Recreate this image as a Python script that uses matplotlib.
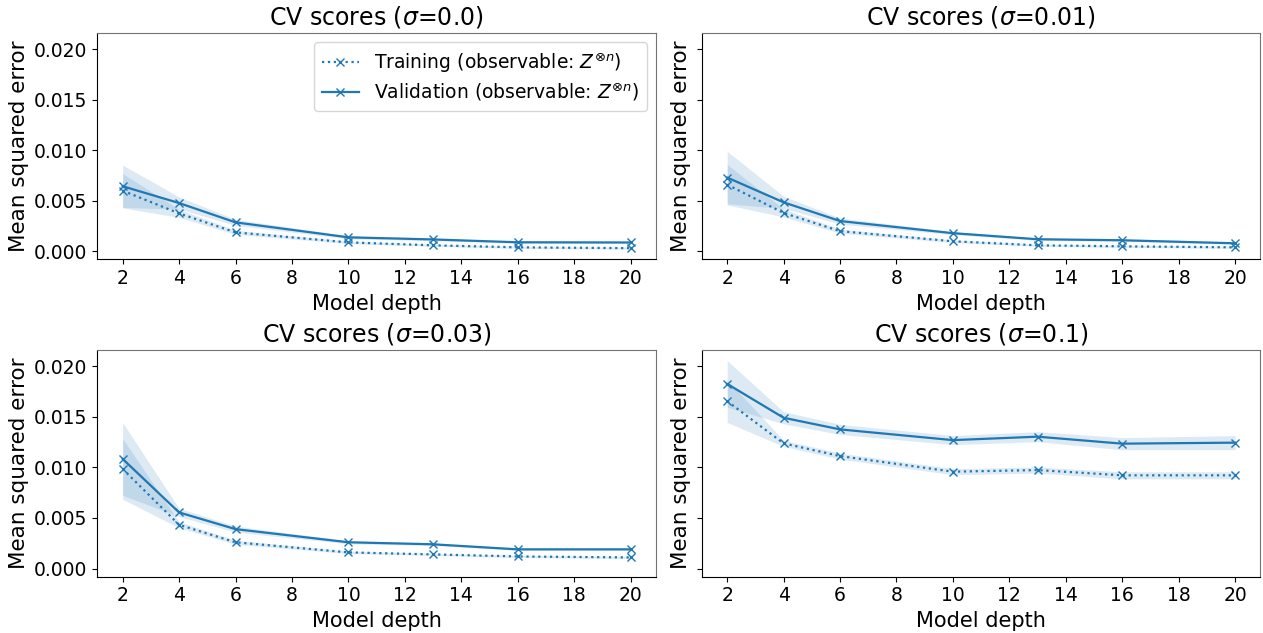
import numpy as np
import matplotlib
matplotlib.use("Agg")
import matplotlib.pyplot as plt

# Model depths on the x axis
depths = [2, 4, 6, 10, 13, 16, 20]
sigmas = ["0.0", "0.01", "0.03", "0.1"]

# mean / std of training and validation MSE, one list per noise level
train_mean = {
    "0.0":  [0.0060, 0.00376, 0.00188, 0.00089, 0.00060, 0.00040, 0.00032],
    "0.01": [0.0066, 0.0038, 0.0020, 0.0010, 0.00060, 0.00050, 0.00040],
    "0.03": [0.00985, 0.00433, 0.0026, 0.0016, 0.0014, 0.0012, 0.0011],
    "0.1":  [0.01655, 0.01238, 0.01112, 0.00958, 0.00974, 0.00922, 0.00922],
}
train_std = {
    "0.0":  [0.0017, 0.0004, 0.0002, 0.00012, 0.0001, 0.0001, 0.0001],
    "0.01": [0.0020, 0.0004, 0.0002, 0.00012, 0.0001, 0.0001, 0.0001],
    "0.03": [0.0030, 0.0003, 0.0002, 0.00012, 0.0001, 0.0001, 0.0001],
    "0.1":  [0.0021, 0.0003, 0.0003, 0.0003, 0.0003, 0.00035, 0.00035],
}
val_mean = {
    "0.0":  [0.00644, 0.00478, 0.00287, 0.00139, 0.00118, 0.00090, 0.00088],
    "0.01": [0.0073, 0.00485, 0.0030, 0.0018, 0.0012, 0.0011, 0.0008],
    "0.03": [0.01084, 0.00555, 0.0039, 0.0026, 0.0024, 0.0019, 0.0019],
    "0.1":  [0.01826, 0.01491, 0.01376, 0.0127, 0.01304, 0.01235, 0.01245],
}
val_std = {
    "0.0":  [0.0021, 0.0006, 0.0003, 0.00015, 0.00012, 0.0001, 0.0001],
    "0.01": [0.0026, 0.0006, 0.0003, 0.00015, 0.00012, 0.0001, 0.0001],
    "0.03": [0.0036, 0.0004, 0.0003, 0.00015, 0.00012, 0.0001, 0.0001],
    "0.1":  [0.0023, 0.0006, 0.0005, 0.00045, 0.0005, 0.0006, 0.0007],
}

fig, axes = plt.subplots(2, 2, figsize=(12.63, 6.33), dpi=100, sharey=True)
plt.subplots_adjust(left=0.077, right=0.998, top=0.948, bottom=0.089,
                    wspace=0.082, hspace=0.40)

x = np.array(depths)
for ax, s in zip(axes.flat, sigmas):
    tm, ts = np.array(train_mean[s]), np.array(train_std[s])
    vm, vs = np.array(val_mean[s]), np.array(val_std[s])

    ax.plot(x, tm, ':', marker='x', color='C0', ms=6, lw=1.6,
            label=r'Training (observable: $Z^{\otimes n}$)')
    ax.fill_between(x, tm - ts, tm + ts, color='C0', alpha=0.15, lw=0)
    ax.plot(x, vm, '-', marker='x', color='C0', ms=6, lw=1.6,
            label=r'Validation (observable: $Z^{\otimes n}$)')
    ax.fill_between(x, vm - vs, vm + vs, color='C0', alpha=0.15, lw=0)

    ax.set_title(r'CV scores ($\sigma$=' + s + ')', fontsize=17)
    ax.set_xlabel('Model depth', fontsize=15)
    ax.set_ylabel('Mean squared error', fontsize=15.5)
    ax.set_xticks(range(2, 21, 2))
    ax.tick_params(labelsize=13.5)
    for side in ['top', 'right']:
        ax.spines[side].set_color('0.45')

axes[0, 0].set_ylim(-0.0008, 0.0216)
axes[0, 0].set_yticks([0, 0.005, 0.010, 0.015, 0.020])
axes[0, 0].set_yticklabels(['0.000', '0.005', '0.010', '0.015', '0.020'])
axes[0, 0].legend(loc='upper right', fontsize=13.5, labelspacing=0.3,
                  handlelength=2.0)

plt.savefig('out.png')
